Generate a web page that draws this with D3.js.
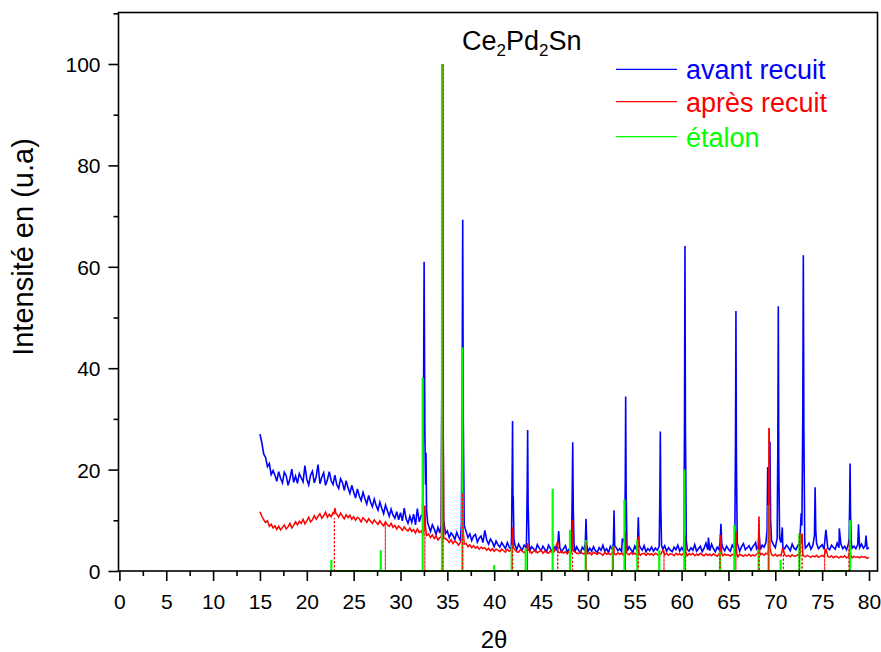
<!DOCTYPE html>
<html>
<head>
<meta charset="utf-8">
<script src="https://cdn.jsdelivr.net/npm/d3@7"></script>
<style>
  body { margin: 0; background: #fff; }
  text { font-family: "Liberation Sans", Arial, sans-serif; }
</style>
</head>
<body>
<script>
// scan grid of the diffractometer (2theta, degrees)
var scanStart = 15, scanStep = 0.2;

// "avant recuit" background, one value per scan step, 15.0 -> 80.0
var avantBase = [
  27.0, 25.3, 23.1, 22.4, 20.6, 21.2, 19.0, 19.8, 18.9, 17.7,
  19.6, 18.3, 17.4, 19.5, 18.8, 16.9, 18.2, 20.1, 17.5, 18.7,
  17.3, 19.2, 18.4, 17.6, 20.8, 18.1, 17.0, 18.9, 19.7, 17.4,
  18.6, 21.0, 17.2, 18.5, 19.4, 16.9, 18.0, 19.6, 17.8, 17.1,
  18.9, 17.0, 16.3, 18.2, 17.5, 15.9, 17.8, 16.4, 15.3, 16.9,
  15.6, 14.4, 16.2, 14.8, 13.9, 15.5, 14.3, 13.2, 14.9, 13.6,
  12.7, 14.2, 12.9, 12.0, 13.6, 12.4, 11.3, 13.0, 11.9, 10.8,
  12.2, 11.0, 10.4, 11.7, 10.1, 11.5, 9.9, 12.4, 10.3, 9.4,
  10.8, 9.6, 11.2, 9.1, 12.3, 9.7, 10.9, 9.3, 10.0, 8.6,
  8.9, 7.8, 9.1, 8.3, 7.2, 8.6, 7.5, 6.9, 8.0, 7.4,
  7.9, 6.6, 7.5, 7.0, 6.2, 7.6, 6.7, 6.0, 7.3, 6.5,
  7.8, 6.6, 7.3, 6.0, 6.9, 7.2, 5.7, 6.5, 6.9, 5.6,
  8.0, 6.1, 5.3, 6.3, 5.7, 4.8, 5.9, 5.2, 4.7, 5.6,
  5.0, 4.4, 5.6, 4.7, 4.3, 5.4, 5.0, 4.2, 5.3, 4.6,
  4.2, 5.1, 4.6, 5.5, 4.0, 4.8, 4.4, 3.9, 5.2, 4.5,
  4.0, 4.9, 4.3, 3.8, 5.1, 4.4, 3.9, 4.7, 4.2, 5.7,
  4.6, 3.8, 4.4, 5.0, 3.7, 4.3, 4.9, 4.0, 3.7, 4.8,
  4.1, 3.6, 4.7, 4.2, 5.0, 3.8, 4.5, 3.9, 4.8, 4.0,
  3.7, 4.6, 4.1, 5.1, 3.9, 4.4, 3.6, 4.9, 4.3, 3.8,
  4.7, 4.0, 4.4, 3.8, 5.9, 4.5, 3.9, 4.8, 4.2, 3.7,
  4.9, 4.2, 3.7, 4.6, 4.1, 5.0, 3.8, 4.4, 4.0, 4.7,
  3.9, 4.5, 4.1, 4.8, 3.7, 4.3, 5.0, 3.9, 4.6, 4.1,
  3.8, 4.7, 4.2, 5.1, 3.9, 4.6, 4.0, 4.9, 4.3, 3.9,
  4.6, 4.1, 5.2, 3.9, 4.4, 4.9, 3.8, 4.5, 5.5, 4.2,
  4.0, 5.3, 4.4, 3.8, 4.7, 4.2, 5.4, 4.6, 4.0, 4.9,
  4.3, 3.9, 5.1, 4.5, 4.1, 5.2, 3.9, 4.8, 5.4, 4.2,
  4.6, 5.0, 4.1, 4.8, 5.3, 4.4, 4.9, 4.2, 5.1, 4.7,
  5.6, 5.0, 5.8, 4.4, 5.2, 4.6, 5.5, 4.3, 5.6, 4.7,
  4.4, 5.1, 4.6, 4.0, 5.3, 4.5, 4.2, 5.0, 5.6, 5.3,
  5.4, 4.5, 4.9, 5.5, 4.3, 5.0, 4.6, 5.4, 4.4, 4.8,
  5.2, 4.3, 4.9, 4.5, 4.2, 5.1, 4.7, 4.3, 5.5, 4.6,
  5.3, 4.4, 4.9, 4.2, 5.3, 5.0, 4.5, 4.9, 4.4, 5.2,
  4.6, 5.3, 4.5, 5.0, 4.4, 4.6
];

// "apres recuit" background, same grid
var apresBase = [
  11.7, 10.8, 10.1, 9.6, 9.9, 8.8, 9.2, 8.5, 8.9, 8.2,
  8.8, 8.1, 8.6, 9.1, 8.3, 8.7, 9.4, 8.5, 9.0, 9.7,
  9.1, 9.8, 9.4, 10.2, 9.3, 9.9, 10.6, 9.7, 10.1, 10.9,
  10.2, 10.8, 11.3, 10.4, 10.9, 11.6, 10.6, 11.2, 10.7, 11.5,
  12.4, 11.2, 10.6, 11.4, 10.8, 10.3, 11.1, 10.5, 11.0, 10.2,
  10.7, 10.0, 10.6, 10.3, 9.7, 10.5, 10.1, 9.6, 10.3, 9.8,
  9.4, 10.1, 9.6, 9.2, 9.9, 9.3, 8.9, 9.7, 9.1, 8.8,
  9.4, 8.6, 9.0, 8.3, 8.9, 8.5, 8.0, 8.7, 8.2, 7.9,
  8.5, 7.8, 8.2, 7.5, 8.3, 7.6, 7.9, 7.2, 7.8, 7.0,
  7.3, 6.6, 7.1, 6.4, 6.9, 6.1, 6.6, 6.3, 5.9, 6.4,
  6.1, 5.6, 6.2, 5.4, 5.9, 5.6, 5.1, 5.7, 5.3, 5.0,
  5.4, 4.8, 5.2, 4.6, 5.0, 4.5, 4.8, 4.3, 4.7, 4.4,
  4.6, 4.1, 4.5, 4.0, 4.4, 3.9, 4.3, 4.1, 3.8, 4.3,
  4.0, 3.7, 4.3, 3.9, 4.1, 3.6, 4.2, 3.8, 3.7, 4.2,
  3.9, 3.6, 4.1, 3.7, 4.0, 3.5, 3.9, 4.1, 3.6, 3.8,
  4.1, 3.5, 3.9, 3.7, 3.5, 4.0, 3.6, 3.8, 5.0, 3.7,
  3.6, 4.0, 3.5, 3.8, 3.4, 3.9, 3.6, 3.4, 3.8, 3.5,
  3.4, 3.8, 3.5, 3.3, 3.7, 3.4, 3.6, 3.2, 3.7, 3.5,
  3.3, 3.6, 3.4, 3.1, 3.7, 3.3, 3.5, 3.2, 3.6, 3.4,
  3.2, 3.6, 3.3, 3.5, 3.1, 3.6, 3.4, 3.2, 3.6, 3.3,
  3.5, 3.2, 3.6, 3.1, 3.4, 3.5, 3.1, 3.5, 3.2, 3.4,
  3.1, 3.5, 3.3, 3.0, 3.4, 4.1, 3.2, 3.5, 3.1, 3.4,
  3.3, 3.0, 3.5, 3.2, 3.4, 3.1, 3.5, 3.2, 3.0, 3.4,
  3.2, 3.5, 3.0, 3.3, 3.1, 3.5, 3.2, 3.0, 3.4, 3.1,
  3.3, 3.0, 3.4, 3.1, 2.9, 3.4, 3.2, 3.0, 3.3, 3.1,
  3.2, 2.9, 3.3, 3.0, 3.2, 2.8, 3.3, 3.1, 2.9, 3.2,
  3.0, 3.3, 2.9, 3.2, 3.0, 3.3, 3.1, 3.2, 3.4, 3.1,
  3.5, 3.3, 3.6, 3.2, 3.0, 3.3, 2.9, 3.2, 3.0, 4.6,
  3.2, 2.9, 3.1, 2.8, 3.2, 2.9, 3.0, 3.2, 2.8, 3.1,
  3.0, 2.8, 3.1, 2.9, 2.7, 3.0, 2.8, 3.1, 2.7, 2.9,
  3.1, 2.8, 4.4, 2.9, 2.7, 3.0, 2.6, 2.9, 2.8, 2.6,
  2.9, 2.7, 3.0, 2.6, 2.8, 3.0, 2.6, 2.9, 2.7, 2.8,
  2.6, 2.9, 2.7, 2.8, 2.5, 2.7
];

// diffraction peaks [2theta, intensity], one group per reflection
var avantPeaks = [
  [[32.36, 11.0], [32.45, 30], [32.52, 61.0], [32.6, 28], [32.67, 17], [32.72, 23.3], [32.78, 12], [32.9, 9.5]],
  [[34.34, 9.0], [34.42, 40], [34.47, 100], [34.52, 45], [34.6, 10]],
  [[36.5, 9.5], [36.58, 35], [36.64, 69.3], [36.7, 30], [36.8, 9.0]],
  [[41.85, 6.5], [41.92, 20], [41.96, 29.6], [42.0, 14], [42.03, 14.8], [42.1, 6.5], [42.2, 5.2]],
  [[43.45, 6.0], [43.52, 16], [43.57, 27.8], [43.62, 13], [43.72, 5.5]],
  [[46.88, 7.9]],
  [[48.25, 6.0], [48.32, 14], [48.38, 25.4], [48.44, 12], [48.52, 5.5]],
  [[49.72, 5.5], [49.8, 10.3], [49.88, 5.2]],
  [[52.72, 5.5], [52.79, 12.0], [52.86, 5.0]],
  [[53.67, 6.4]],
  [[53.93, 6.5], [53.99, 18], [54.03, 34.4], [54.08, 16], [54.16, 5.5]],
  [[55.3, 5.5], [55.38, 10.6], [55.46, 5.2]],
  [[57.62, 6.0], [57.68, 15], [57.73, 27.5], [57.78, 13], [57.86, 5.0]],
  [[60.25, 6.5], [60.31, 30], [60.36, 64.1], [60.41, 28], [60.5, 6.0]],
  [[62.86, 6.6]],
  [[64.12, 6.0], [64.2, 9.3], [64.28, 5.5]],
  [[65.68, 6.5], [65.75, 25], [65.8, 51.3], [65.85, 22], [65.94, 5.5]],
  [[67.9, 5.6]],
  [[68.25, 7.8]],
  [[69.12, 8], [69.19, 20.5], [69.26, 12], [69.36, 14], [69.43, 25.5], [69.5, 10], [69.6, 6]],
  [[70.2, 6.5], [70.27, 25], [70.32, 52.2], [70.37, 22], [70.46, 6.5]],
  [[70.75, 8.6]],
  [[72.7, 9], [72.76, 11.4], [72.84, 9], [72.93, 30], [72.99, 62.3], [73.05, 28], [73.14, 6]],
  [[74.18, 7], [74.25, 16.5], [74.32, 8], [74.4, 5.5]],
  [[75.4, 8.1]],
  [[76.83, 8.4]],
  [[77.88, 6.5], [77.94, 14], [77.98, 21.2], [78.03, 11], [78.12, 5.5]],
  [[78.88, 9.2]],
  [[79.68, 7.0]]
];

var apresPeaks = [
  [[22.9, 11.3], [23.0, 12.4], [23.1, 11.4]],
  [[32.48, 7.8], [32.56, 11], [32.6, 12.9], [32.66, 9], [32.76, 7.2]],
  [[34.36, 6.8], [34.43, 50], [34.48, 100], [34.53, 40], [34.62, 6.4]],
  [[36.5, 5.8], [36.58, 10], [36.63, 15.4], [36.69, 8], [36.8, 5.3]],
  [[41.9, 4.4], [41.97, 8.6], [42.05, 4.6]],
  [[43.5, 4.2], [43.56, 5.5], [43.63, 4.1]],
  [[46.78, 5.8]],
  [[48.28, 4.2], [48.35, 10.1], [48.42, 4.0]],
  [[49.75, 3.9], [49.8, 5.6], [49.86, 3.7]],
  [[52.78, 4.8]],
  [[53.95, 3.9], [54.01, 7.8], [54.08, 3.8]],
  [[55.33, 3.8], [55.39, 6.8], [55.45, 3.6]],
  [[60.3, 4.0], [60.37, 7.1], [60.44, 3.8]],
  [[64.14, 3.8], [64.2, 7.1], [64.27, 3.6]],
  [[65.72, 3.8], [65.8, 7.8], [65.88, 3.5]],
  [[68.18, 3.6], [68.26, 10.7], [68.33, 3.8]],
  [[69.26, 4.2], [69.35, 28.2], [69.43, 4.5]],
  [[72.66, 3.6], [72.72, 7.4], [72.8, 5.5], [72.86, 7.4], [72.94, 3.4]],
  [[77.9, 3.4], [77.97, 6.1], [78.04, 3.2]]
];

// reference pattern (etalon) [2theta, intensity]
var etalonSticks = [
  [22.62, 2.2], [27.89, 4.1], [32.37, 38.1], [34.43, 100], [36.6, 44.1],
  [40.0, 1.2], [41.87, 5.1], [43.36, 4.5], [46.24, 16.2], [48.09, 8.1],
  [49.76, 6.1], [52.65, 4.9], [53.9, 14.1], [55.27, 6.1], [57.62, 4.1],
  [60.29, 20.0], [64.1, 4.0], [65.63, 9.1], [68.22, 4.1], [69.28, 13.0],
  [70.57, 2.2], [72.57, 7.4], [77.97, 10.0]
];

// drop lines of the annealed sample (dotted)
var apresSticks = [
  [22.94, 10.4], [28.38, 9.4], [32.6, 12.8], [34.55, 100], [36.63, 15.3],
  [41.97, 8.6], [43.56, 5.5], [46.78, 5.8], [48.35, 10.1], [49.8, 5.6],
  [52.7, 4.8], [54.01, 7.8], [55.39, 6.8], [58.12, 4.1], [60.43, 7.1],
  [64.1, 7.1], [65.8, 7.8], [68.27, 10.7], [69.3, 28.2], [70.86, 4.6],
  [72.57, 7.4], [72.86, 7.4], [75.27, 4.4], [77.87, 6.1]
];

var xMajor = [0, 5, 10, 15, 20, 25, 30, 35, 40, 45, 50, 55, 60, 65, 70, 75, 80];
var xMinor = [2.5, 7.5, 12.5, 17.5, 22.5, 27.5, 32.5, 37.5, 42.5, 47.5, 52.5, 57.5, 62.5, 67.5, 72.5, 77.5];
var yMajor = [0, 20, 40, 60, 80, 100];
var yMinor = [10, 30, 50, 70, 90, 110];

var seriesNames = ["avant recuit", "après recuit", "étalon"];
var seriesColors = ["#0000ff", "#ff0000", "#00ff00"];

var W = 881, H = 652;
var frame = {left: 118.5, right: 877.5, top: 12.5, bottom: 571};

var svg = d3.select("body").append("svg")
    .attr("width", W).attr("height", H);

var x = d3.scaleLinear().domain([0, 80]).range([119.4, 869]);
var y = d3.scaleLinear().domain([0, 100]).range([571, 64]);

function merge(base, peaks) {
    var pts = base.map(function(v, i) { return [+(scanStart + i * scanStep).toFixed(2), v]; });
    pts = pts.filter(function(p) {
        return !peaks.some(function(g) { return p[0] >= g[0][0] && p[0] <= g[g.length - 1][0]; });
    });
    peaks.forEach(function(g) { g.forEach(function(p) { pts.push(p); }); });
    pts.sort(function(a, b) { return a[0] - b[0]; });
    return pts;
}

function stickPath(sticks) {
    var s = "M" + x(sticks[0][0]) + "," + y(0);
    sticks.forEach(function(d) {
        s += "L" + x(d[0]) + "," + y(0) + "L" + x(d[0]) + "," + y(d[1]) + "L" + x(d[0]) + "," + y(0);
    });
    return s;
}

var line = d3.line()
    .x(function(d) { return x(d[0]); })
    .y(function(d) { return y(d[1]); });

var plot = svg.append("g");

plot.append("path")
    .attr("d", line(merge(avantBase, avantPeaks)))
    .attr("fill", "none").attr("stroke", seriesColors[0]).attr("stroke-width", 1.6);

plot.append("path")
    .attr("d", line(merge(apresBase, apresPeaks)))
    .attr("fill", "none").attr("stroke", seriesColors[1]).attr("stroke-width", 1.5);

plot.append("path")
    .attr("d", stickPath(etalonSticks))
    .attr("fill", "none").attr("stroke", seriesColors[2]).attr("stroke-width", 2.2);

plot.append("path")
    .attr("d", stickPath(apresSticks))
    .attr("fill", "none").attr("stroke", seriesColors[1]).attr("stroke-width", 1)
    .attr("stroke-dasharray", "2,2");

// frame
svg.append("rect")
    .attr("x", frame.left).attr("y", frame.top)
    .attr("width", frame.right - frame.left).attr("height", frame.bottom - frame.top)
    .attr("fill", "none").attr("stroke", "#000").attr("stroke-width", 1.6);

// axes
svg.append("g")
    .attr("transform", "translate(0," + frame.bottom + ")")
    .call(d3.axisBottom(x).tickValues(xMajor).tickSize(10).tickPadding(13));
svg.append("g")
    .attr("transform", "translate(0," + frame.bottom + ")")
    .call(d3.axisBottom(x).tickValues(xMinor).tickSize(5).tickFormat(""));

var yAxis = svg.append("g")
    .attr("transform", "translate(" + frame.left + ",0)")
    .call(d3.axisLeft(y).tickValues(yMajor).tickSize(10).tickPadding(8));
svg.append("g")
    .attr("transform", "translate(" + frame.left + ",0)")
    .call(d3.axisLeft(y).tickValues(yMinor).tickSize(5).tickFormat(""));

svg.selectAll(".domain").remove();
svg.selectAll(".tick line").attr("stroke", "#000").attr("stroke-width", 1.6);
svg.selectAll(".tick text")
    .attr("font-family", "'Liberation Sans', Arial, sans-serif")
    .attr("font-size", 21).attr("fill", "#000");
yAxis.selectAll(".tick text").attr("dy", "0.36em");

// axis titles
svg.append("text")
    .attr("x", 494).attr("y", 648)
    .attr("text-anchor", "middle").attr("font-size", 24)
    .text("2θ");

svg.append("text")
    .attr("transform", "translate(33,247) rotate(-90)")
    .attr("text-anchor", "middle").attr("font-size", 29)
    .text("Intensité en (u.a)");

// compound name
var title = svg.append("text").attr("x", 462).attr("y", 50).attr("font-size", 27);
title.append("tspan").text("Ce");
title.append("tspan").attr("font-size", 17).attr("dy", 6).text("2");
title.append("tspan").attr("dy", -6).text("Pd");
title.append("tspan").attr("font-size", 17).attr("dy", 6).text("2");
title.append("tspan").attr("dy", -6).text("Sn");

// legend
var legendY = [69.3, 101.7, 136.7];
seriesNames.forEach(function(name, i) {
    svg.append("line")
        .attr("x1", 616).attr("x2", 677)
        .attr("y1", legendY[i]).attr("y2", legendY[i])
        .attr("stroke", seriesColors[i]).attr("stroke-width", 1.2);
    svg.append("text")
        .attr("x", 686).attr("y", legendY[i] + 10)
        .attr("font-size", 27).attr("fill", seriesColors[i])
        .text(name);
});
</script>
</body>
</html>
